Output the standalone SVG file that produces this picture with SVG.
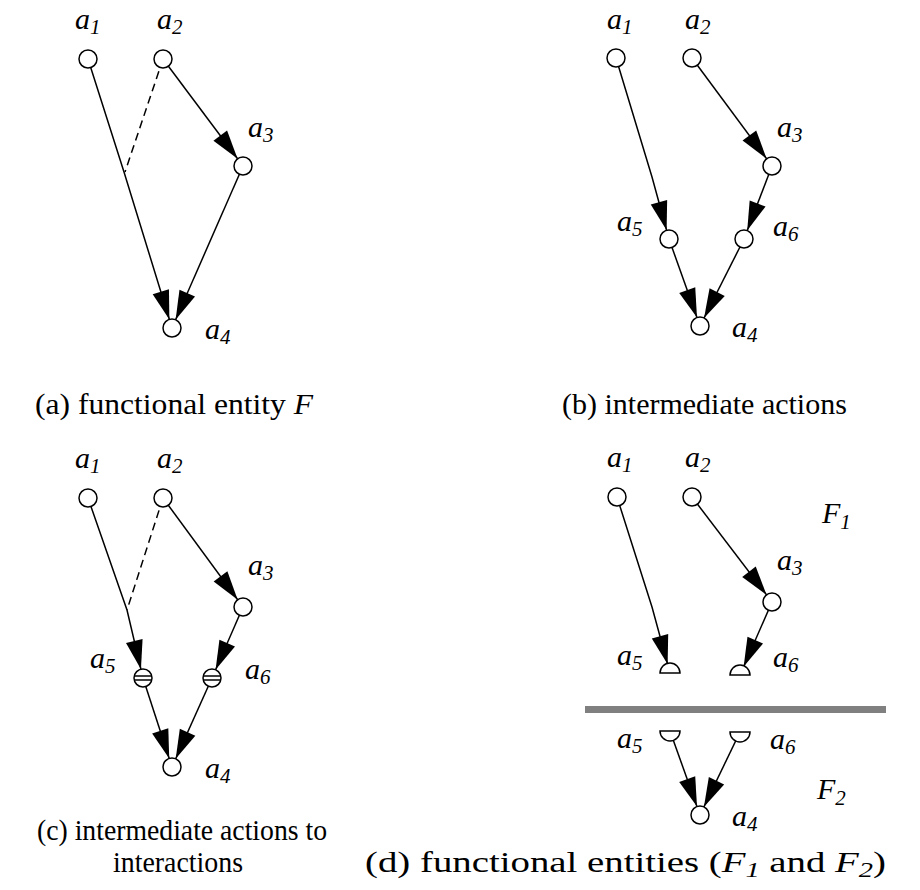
<svg xmlns="http://www.w3.org/2000/svg" width="920" height="890" viewBox="0 0 920 890">
<style>
.ln{fill:none;stroke:#000;stroke-width:1.5}
.ar{marker-end:url(#ah)}
.ds{stroke-dasharray:8 5}
.nd{fill:#fff;stroke:#000;stroke-width:1.5}
.bar{stroke:#000;stroke-width:1.5}
.lbl{font-family:"Liberation Serif","Times New Roman",serif;font-style:italic;font-size:30px;fill:#000}
.sub{font-size:21px;font-style:italic}
.cap{font-family:"Liberation Serif","Times New Roman",serif;font-size:30px;fill:#000}
.it{font-style:italic}
</style>
<defs>
<marker id="ah" markerUnits="userSpaceOnUse" markerWidth="40" markerHeight="20" refX="38" refY="8.5" orient="auto" overflow="visible">
<path d="M0,0 L29,8.5 L0,17 Z" fill="#000"/>
</marker>
</defs>
<rect width="920" height="890" fill="#fff"/>
<g id="connectors">
<path class="ln ar" d="M88,59 L124,172 L172,328"/>
<path class="ln ds" d="M163,59 L125,172"/>
<path class="ln ar" d="M163,59 L243,166"/>
<path class="ln ar" d="M243,166 L172,328"/>
<path class="ln ar" d="M616,58 L652,177 L669,239"/>
<path class="ln ar" d="M692,58 L772,166"/>
<path class="ln ar" d="M772,166 L744,239"/>
<path class="ln ar" d="M669,239 L700,326"/>
<path class="ln ar" d="M744,239 L700,326"/>
<path class="ln ar" d="M88,498 L127,610 L143,678"/>
<path class="ln ds" d="M163,498 L127,610"/>
<path class="ln ar" d="M163,498 L243,607"/>
<path class="ln ar" d="M243,607 L212,678"/>
<path class="ln ar" d="M143,678 L172,767"/>
<path class="ln ar" d="M212,678 L172,767"/>
<path class="ln ar" d="M617,497 L652,607 L670,673"/>
<path class="ln ar" d="M692,497 L772,602"/>
<path class="ln ar" d="M772,602 L740,675"/>
<path class="ln ar" d="M670,731 L700,815"/>
<path class="ln ar" d="M740,732 L700,815"/>
</g>
<g id="divider"><rect x="585" y="706" width="301" height="7" fill="#808080"/></g>
<g id="a-a1"><circle class="nd" cx="88" cy="59" r="9"/><text class="lbl" x="75" y="29">a<tspan class="sub" dy="5">1</tspan></text></g>
<g id="a-a2"><circle class="nd" cx="163" cy="59" r="9"/><text class="lbl" x="157" y="29">a<tspan class="sub" dy="5">2</tspan></text></g>
<g id="a-a3"><circle class="nd" cx="243" cy="166" r="9"/><text class="lbl" x="248" y="137">a<tspan class="sub" dy="5">3</tspan></text></g>
<g id="a-a4"><circle class="nd" cx="172" cy="328" r="9"/><text class="lbl" x="205" y="339">a<tspan class="sub" dy="5">4</tspan></text></g>
<g id="b-a1"><circle class="nd" cx="616" cy="58" r="9"/><text class="lbl" x="607" y="29">a<tspan class="sub" dy="5">1</tspan></text></g>
<g id="b-a2"><circle class="nd" cx="692" cy="58" r="9"/><text class="lbl" x="685" y="29">a<tspan class="sub" dy="5">2</tspan></text></g>
<g id="b-a3"><circle class="nd" cx="772" cy="166" r="9"/><text class="lbl" x="777" y="137">a<tspan class="sub" dy="5">3</tspan></text></g>
<g id="b-a5"><circle class="nd" cx="669" cy="239" r="9"/><text class="lbl" x="617" y="231">a<tspan class="sub" dy="5">5</tspan></text></g>
<g id="b-a6"><circle class="nd" cx="744" cy="239" r="9"/><text class="lbl" x="773" y="236">a<tspan class="sub" dy="5">6</tspan></text></g>
<g id="b-a4"><circle class="nd" cx="700" cy="326" r="9"/><text class="lbl" x="732" y="337">a<tspan class="sub" dy="5">4</tspan></text></g>
<g id="c-a1"><circle class="nd" cx="88" cy="498" r="9"/><text class="lbl" x="75" y="468">a<tspan class="sub" dy="5">1</tspan></text></g>
<g id="c-a2"><circle class="nd" cx="163" cy="498" r="9"/><text class="lbl" x="157" y="468">a<tspan class="sub" dy="5">2</tspan></text></g>
<g id="c-a3"><circle class="nd" cx="243" cy="607" r="9"/><text class="lbl" x="248" y="575">a<tspan class="sub" dy="5">3</tspan></text></g>
<g id="c-a5"><circle class="nd" cx="143" cy="678" r="9"/><line class="bar" x1="134" y1="676" x2="152" y2="676"/><line class="bar" x1="134" y1="680" x2="152" y2="680"/><text class="lbl" x="90" y="668">a<tspan class="sub" dy="5">5</tspan></text></g>
<g id="c-a6"><circle class="nd" cx="212" cy="678" r="9"/><line class="bar" x1="203" y1="676" x2="221" y2="676"/><line class="bar" x1="203" y1="680" x2="221" y2="680"/><text class="lbl" x="245" y="679">a<tspan class="sub" dy="5">6</tspan></text></g>
<g id="c-a4"><circle class="nd" cx="172" cy="767" r="9"/><text class="lbl" x="205" y="778">a<tspan class="sub" dy="5">4</tspan></text></g>
<g id="d-a1"><circle class="nd" cx="617" cy="497" r="9"/><text class="lbl" x="607" y="467">a<tspan class="sub" dy="5">1</tspan></text></g>
<g id="d-a2"><circle class="nd" cx="692" cy="497" r="9"/><text class="lbl" x="685" y="467">a<tspan class="sub" dy="5">2</tspan></text></g>
<g id="d-a3"><circle class="nd" cx="772" cy="602" r="9"/><text class="lbl" x="777" y="570">a<tspan class="sub" dy="5">3</tspan></text></g>
<g id="d-a5-up"><path class="nd" d="M660,673 A10,10 0 0 1 680,673 Z"/><text class="lbl" x="617" y="665">a<tspan class="sub" dy="5">5</tspan></text></g>
<g id="d-a6-up"><path class="nd" d="M730,675 A10,10 0 0 1 750,675 Z"/><text class="lbl" x="773" y="667">a<tspan class="sub" dy="5">6</tspan></text></g>
<g id="d-a5-low"><path class="nd" d="M660,731 A10,10 0 0 0 680,731 Z"/><text class="lbl" x="617" y="748">a<tspan class="sub" dy="5">5</tspan></text></g>
<g id="d-a6-low"><path class="nd" d="M730,732 A10,10 0 0 0 750,732 Z"/><text class="lbl" x="770" y="749">a<tspan class="sub" dy="5">6</tspan></text></g>
<g id="d-a4"><circle class="nd" cx="700" cy="815" r="9"/><text class="lbl" x="732" y="826">a<tspan class="sub" dy="5">4</tspan></text></g>
<g id="d-F1"><text class="lbl" x="822" y="523">F<tspan class="sub" dy="6">1</tspan></text></g>
<g id="d-F2"><text class="lbl" x="817" y="799">F<tspan class="sub" dy="6">2</tspan></text></g>
<g id="captions">
<text class="cap" x="35" y="414" textLength="278" lengthAdjust="spacingAndGlyphs">(a) functional entity <tspan class="it">F</tspan></text>
<text class="cap" x="562" y="414">(b) intermediate actions</text>
<text class="cap" x="37" y="840" font-size="29" textLength="290" lengthAdjust="spacingAndGlyphs">(c) intermediate actions to</text>
<text class="cap" x="178" y="872" font-size="29" text-anchor="middle" textLength="130" lengthAdjust="spacingAndGlyphs">interactions</text>
<text class="cap" x="365" y="872" font-size="32" textLength="521" lengthAdjust="spacingAndGlyphs">(d) functional entities (<tspan class="it">F</tspan><tspan class="it" font-size="22" dy="5">1</tspan><tspan dy="-5"> and </tspan><tspan class="it">F</tspan><tspan class="it" font-size="22" dy="5">2</tspan><tspan dy="-5">)</tspan></text>
</g>
</svg>
